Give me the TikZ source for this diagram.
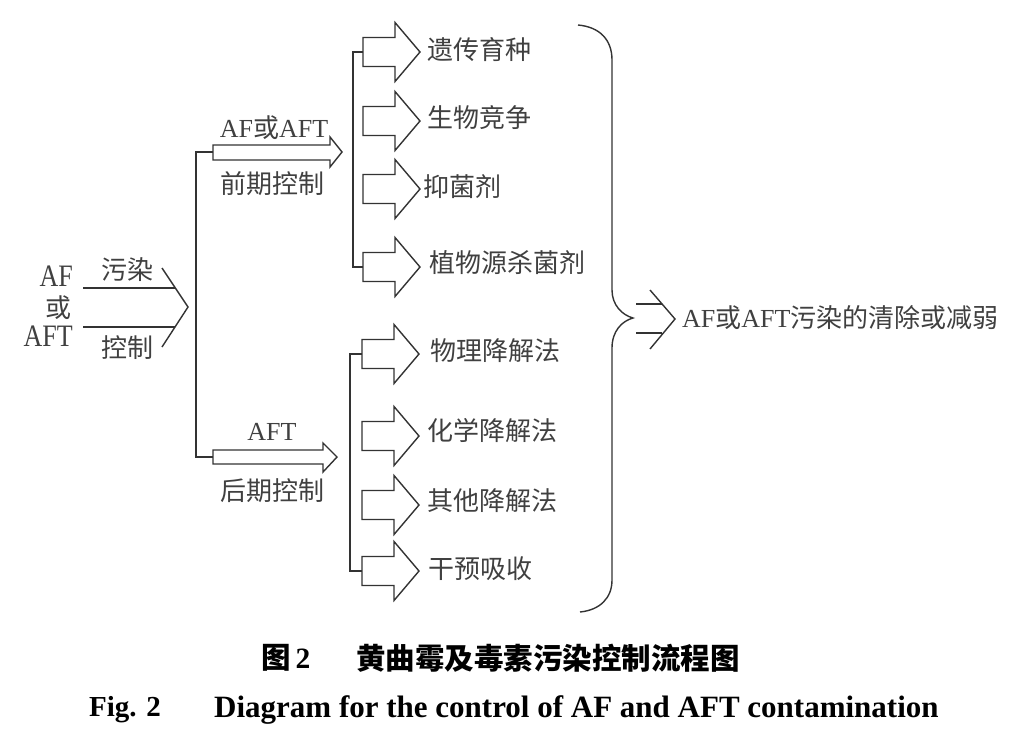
\documentclass[tikz,border=0pt]{standalone}
\usepackage{graphicx}
\usepackage{fontspec}
\setmainfont{Liberation Serif}
\newfontfamily\cjk{Noto Sans CJK SC}
\begin{document}
\begin{tikzpicture}[x=1pt,y=-1pt]
\tikzset{
  ln/.style={draw=black!80, line width=1.4pt, line join=miter},
  lbl/.style={inner sep=0pt, text=black!75, font=\fontsize{26}{30}\selectfont},
  cj/.style={inner sep=0pt, text=black!75, font=\fontsize{26}{30}\selectfont\cjk},
  capcn/.style={inner sep=0pt, text=black, font=\fontsize{29.5}{34}\selectfont\cjk\bfseries},
  capen/.style={inner sep=0pt, text=black, font=\fontsize{29}{34}\selectfont\bfseries},
  bigarrow/.pic={\draw[ln] (0,-14.5) -- (32,-14.5) -- (32,-29.5) -- (57,0) -- (32,29.5) -- (32,14.5) -- (0,14.5) -- cycle;},
}
\useasboundingbox (0,0) rectangle (1016,744);
% ---- input
\node[lbl, anchor=east] (af) at (73,276) {\scalebox{1}[1.2]{AF}};
\node[cj, anchor=east] (or) at (72,308) {或};
\node[lbl, anchor=east] (aft) at (73,336) {\scalebox{1}[1.2]{AFT}};
\coordinate (l1a) at (83,288); \coordinate (l1b) at (175,288);
\coordinate (l2a) at (83,327); \coordinate (l2b) at (175,327);
\draw[ln] (l1a) -- (l1b);
\draw[ln] (l2a) -- (l2b);
\draw[ln] (162,268) -- (188,307) -- (162,347);
\node[cj] (wr) at (127,270) {污染};
\node[cj] (kz) at (127,348) {控制};
% ---- main spine
\coordinate (st) at (196,152); \coordinate (sb) at (196,457);
\draw[ln] (213,152) -- (st) -- (sb) -- (213,457);
% upper small arrow
\draw[ln] (213,145) -- (330,145) -- (330,137) -- (342,152) -- (330,167) -- (330,160) -- (213,160) -- cycle;
\node[lbl] (pre1) at (274,128) {AF{\cjk 或}AFT};
\node[cj] (pre2) at (272,184) {前期控制};
% lower small arrow
\draw[ln] (213,450) -- (323,450) -- (323,443) -- (337,457) -- (323,472) -- (323,464) -- (213,464) -- cycle;
\node[lbl] (post1) at (272,432) {AFT};
\node[cj] (post2) at (272,491) {后期控制};
% ---- upper group
\draw[ln] (363,52) -- (353,52) -- (353,267) -- (363,267);
\pic at (363,52) {bigarrow};
\pic at (363,121) {bigarrow};
\pic at (363,189) {bigarrow};
\pic at (363,267) {bigarrow};
\node[cj, anchor=west] (u1) at (427,50) {遗传育种};
\node[cj, anchor=west] (u2) at (427,118) {生物竞争};
\node[cj, anchor=west] (u3) at (423,187) {抑菌剂};
\node[cj, anchor=west] (u4) at (429,263) {植物源杀菌剂};
% ---- lower group
\draw[ln] (362,354) -- (350,354) -- (350,571) -- (362,571);
\pic at (362,354) {bigarrow};
\pic at (362,436) {bigarrow};
\pic at (362,505) {bigarrow};
\pic at (362,571) {bigarrow};
\node[cj, anchor=west] (d1) at (430,351) {物理降解法};
\node[cj, anchor=west] (d2) at (427,431) {化学降解法};
\node[cj, anchor=west] (d3) at (427,501) {其他降解法};
\node[cj, anchor=west] (d4) at (428,569) {干预吸收};
% ---- brace
\draw[ln] (578,25) .. controls (600,27) and (612,40) .. (612,60) -- (612,290)
  .. controls (612,305) and (622,315) .. (633,318)
  .. controls (622,321) and (612,331) .. (612,348) -- (612,580)
  .. controls (612,598) and (600,610) .. (580,612);
% ---- output arrow
\draw[ln] (636,304) -- (662,304);
\draw[ln] (636,333) -- (662,333);
\draw[ln] (650,290) -- (675,319) -- (650,349);
\node[lbl, anchor=west] (res) at (682,318) {AF{\cjk 或}AFT{\cjk 污染的清除或减弱}};
% ---- caption
\node[capcn, anchor=west] (c1a) at (261,658) {图\,{\rmfamily\bfseries 2}};
\node[capcn, anchor=west] (c1b) at (356,658) {黄曲霉及毒素污染控制流程图};
\node[capen, anchor=west] (c2a) at (89,710) {Fig. 2};
\node[capen, anchor=west, font=\fontsize{31}{34}\selectfont\bfseries] (c2b) at (214,710) {Diagram for the control of AF and AFT contamination};
\end{tikzpicture}
\end{document}
